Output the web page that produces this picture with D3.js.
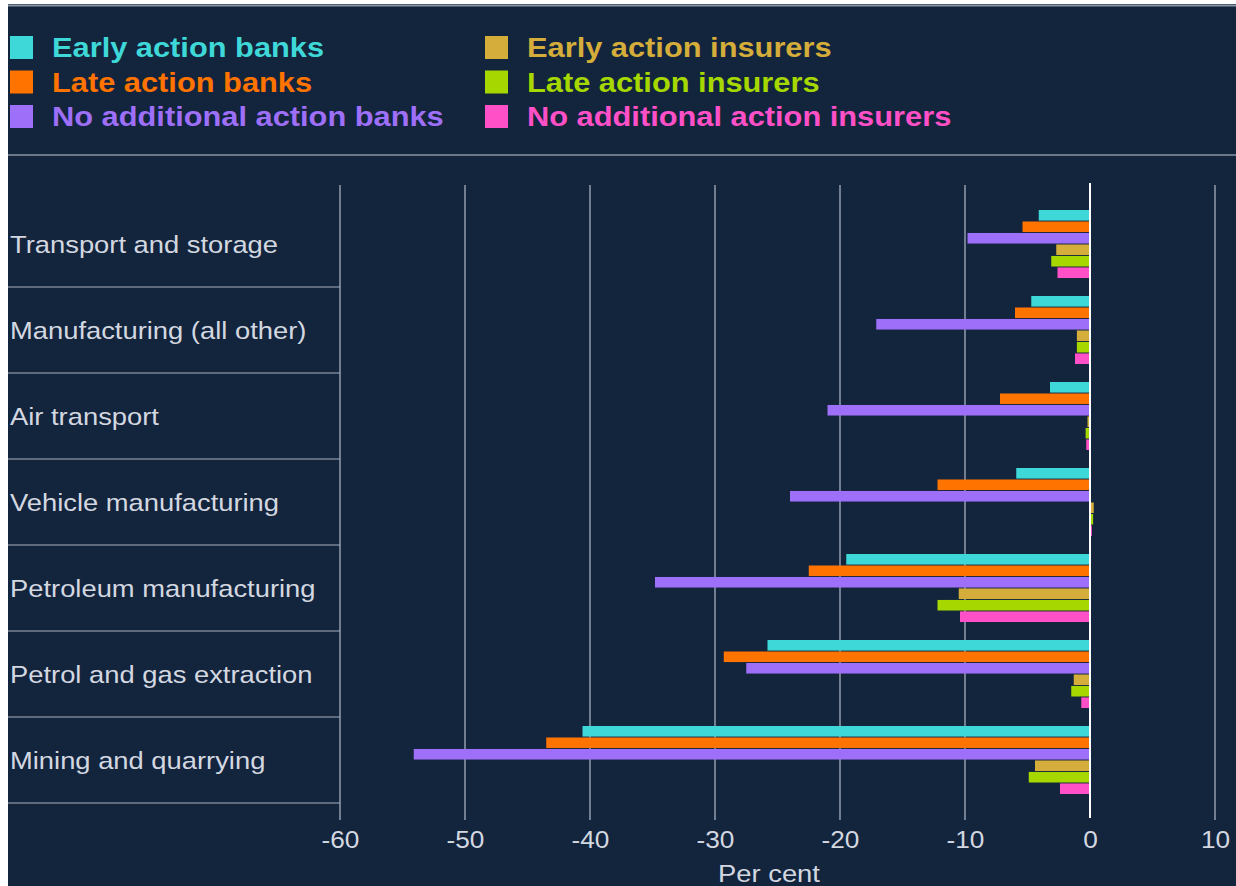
<!DOCTYPE html>
<meta charset="utf-8">
<script src="https://d3js.org/d3.v7.min.js"></script>
<style>
  body { margin: 0; background: #fff; }
  text { font-family: "Liberation Sans", Arial, sans-serif; }
</style>
<div id="chart"></div>
<script>

// categories, top to bottom
var sectors = ["Transport and storage", "Manufacturing (all other)", "Air transport",
  "Vehicle manufacturing", "Petroleum manufacturing", "Petrol and gas extraction",
  "Mining and quarrying"];

var seriesNames = ["Early action banks", "Late action banks", "No additional action banks",
  "Early action insurers", "Late action insurers", "No additional action insurers"];

var seriesColors = ["#3fd8d8", "#ff7300", "#9e6ff8", "#d4ad3a", "#a6d800", "#ff50c8"];

// values per series, same order as sectors (per cent)
var earlyBanks    = [-4.1, -4.7, -3.2, -5.9, -19.5, -25.8, -40.6];
var lateBanks     = [-5.4, -6.0, -7.2, -12.2, -22.5, -29.3, -43.5];
var noActionBanks = [-9.8, -17.1, -21.0, -24.0, -34.8, -27.5, -54.1];
var earlyIns      = [-2.7, -1.05, -0.2, 0.3, -10.5, -1.3, -4.4];
var lateIns       = [-3.1, -1.05, -0.35, 0.25, -12.2, -1.5, -4.9];
var noActionIns   = [-2.6, -1.2, -0.3, 0.15, -10.4, -0.7, -2.4];

var xTicks = [-60, -50, -40, -30, -20, -10, 0, 10];

var series = [earlyBanks, lateBanks, noActionBanks, earlyIns, lateIns, noActionIns];

var W = 1236, H = 886;
var textCol = "#d3d8e0";
var svg = d3.select("#chart").append("svg")
  .attr("width", W).attr("height", H);

// dark panel
svg.append("rect").attr("x", 8).attr("y", 4).attr("width", W - 8).attr("height", H - 4)
  .attr("fill", "#13243d");
svg.append("line").attr("x1", 8).attr("x2", W).attr("y1", 5.5).attr("y2", 5.5)
  .attr("stroke", "#8a95a5").attr("stroke-width", 2);
svg.append("line").attr("x1", 8).attr("x2", W).attr("y1", 155).attr("y2", 155)
  .attr("stroke", "#8a95a5").attr("stroke-width", 1.5);

// legend
var legend = svg.append("g");
seriesNames.forEach(function(name, i) {
  var col = Math.floor(i / 3), row = i % 3;
  var lx = col === 0 ? 10 : 485, ly = 47 + row * 34.5;
  legend.append("rect").attr("x", lx).attr("y", ly - 11).attr("width", 23).attr("height", 23)
    .attr("fill", seriesColors[i]);
  legend.append("text")
    .attr("transform", "translate(" + (lx + 42) + "," + ly + ") scale(1.1,1)")
    .attr("dy", "0.36em")
    .attr("fill", seriesColors[i]).attr("font-size", 28).attr("font-weight", "bold")
    .text(name);
});

// scales
var x = d3.scaleLinear().domain([-60, 10]).range([340, 1215]);
var y = d3.scaleBand().domain(sectors).range([201, 803]);
var yInner = d3.scaleBand().domain(d3.range(6)).range([9, y.bandwidth() - 9]).paddingInner(0.08);

// gridlines
svg.append("g").selectAll("line").data(xTicks.filter(function(d) { return d !== 0; }))
  .join("line")
    .attr("x1", function(d) { return x(d); }).attr("x2", function(d) { return x(d); })
    .attr("y1", 185).attr("y2", 820)
    .attr("stroke", "#b4bcc8").attr("stroke-width", 1.2);

// category separators
svg.append("g").selectAll("line").data(sectors)
  .join("line")
    .attr("x1", 8).attr("x2", x(-60))
    .attr("y1", function(d) { return y(d) + y.bandwidth(); })
    .attr("y2", function(d) { return y(d) + y.bandwidth(); })
    .attr("stroke", "#a9b2bf").attr("stroke-width", 1.2);

// bars
series.forEach(function(vals, si) {
  svg.append("g").selectAll("rect").data(vals)
    .join("rect")
      .attr("x", function(d) { return x(Math.min(0, d)); })
      .attr("width", function(d) { return Math.abs(x(d) - x(0)); })
      .attr("y", function(d, i) { return y(sectors[i]) + yInner(si); })
      .attr("height", yInner.bandwidth())
      .attr("fill", seriesColors[si]);
});

// zero line
svg.append("line").attr("x1", x(0)).attr("x2", x(0)).attr("y1", 183).attr("y2", 818)
  .attr("stroke", "#ffffff").attr("stroke-width", 2);

// category labels
svg.append("g").selectAll("text").data(sectors)
  .join("text")
    .attr("transform", function(d) {
      return "translate(10," + (y(d) + y.bandwidth() / 2) + ") scale(1.14,1)";
    })
    .attr("dy", "0.36em")
    .attr("fill", textCol).attr("font-size", 24)
    .text(function(d) { return d; });

// x axis
var xAxis = svg.append("g")
  .attr("transform", "translate(0,820)")
  .call(d3.axisBottom(x).tickValues(xTicks).tickSize(0).tickPadding(12)
    .tickFormat(function(d) { return String(d); }));
xAxis.select(".domain").remove();
xAxis.selectAll("text").attr("fill", textCol).attr("font-size", 23)
  .attr("font-family", "Liberation Sans, Arial, sans-serif")
  .attr("transform", "scale(1.14,1)");

svg.append("text")
  .attr("transform", "translate(769,873) scale(1.14,1)")
  .attr("dy", "0.36em")
  .attr("text-anchor", "middle").attr("fill", textCol).attr("font-size", 24)
  .text("Per cent");

</script>
